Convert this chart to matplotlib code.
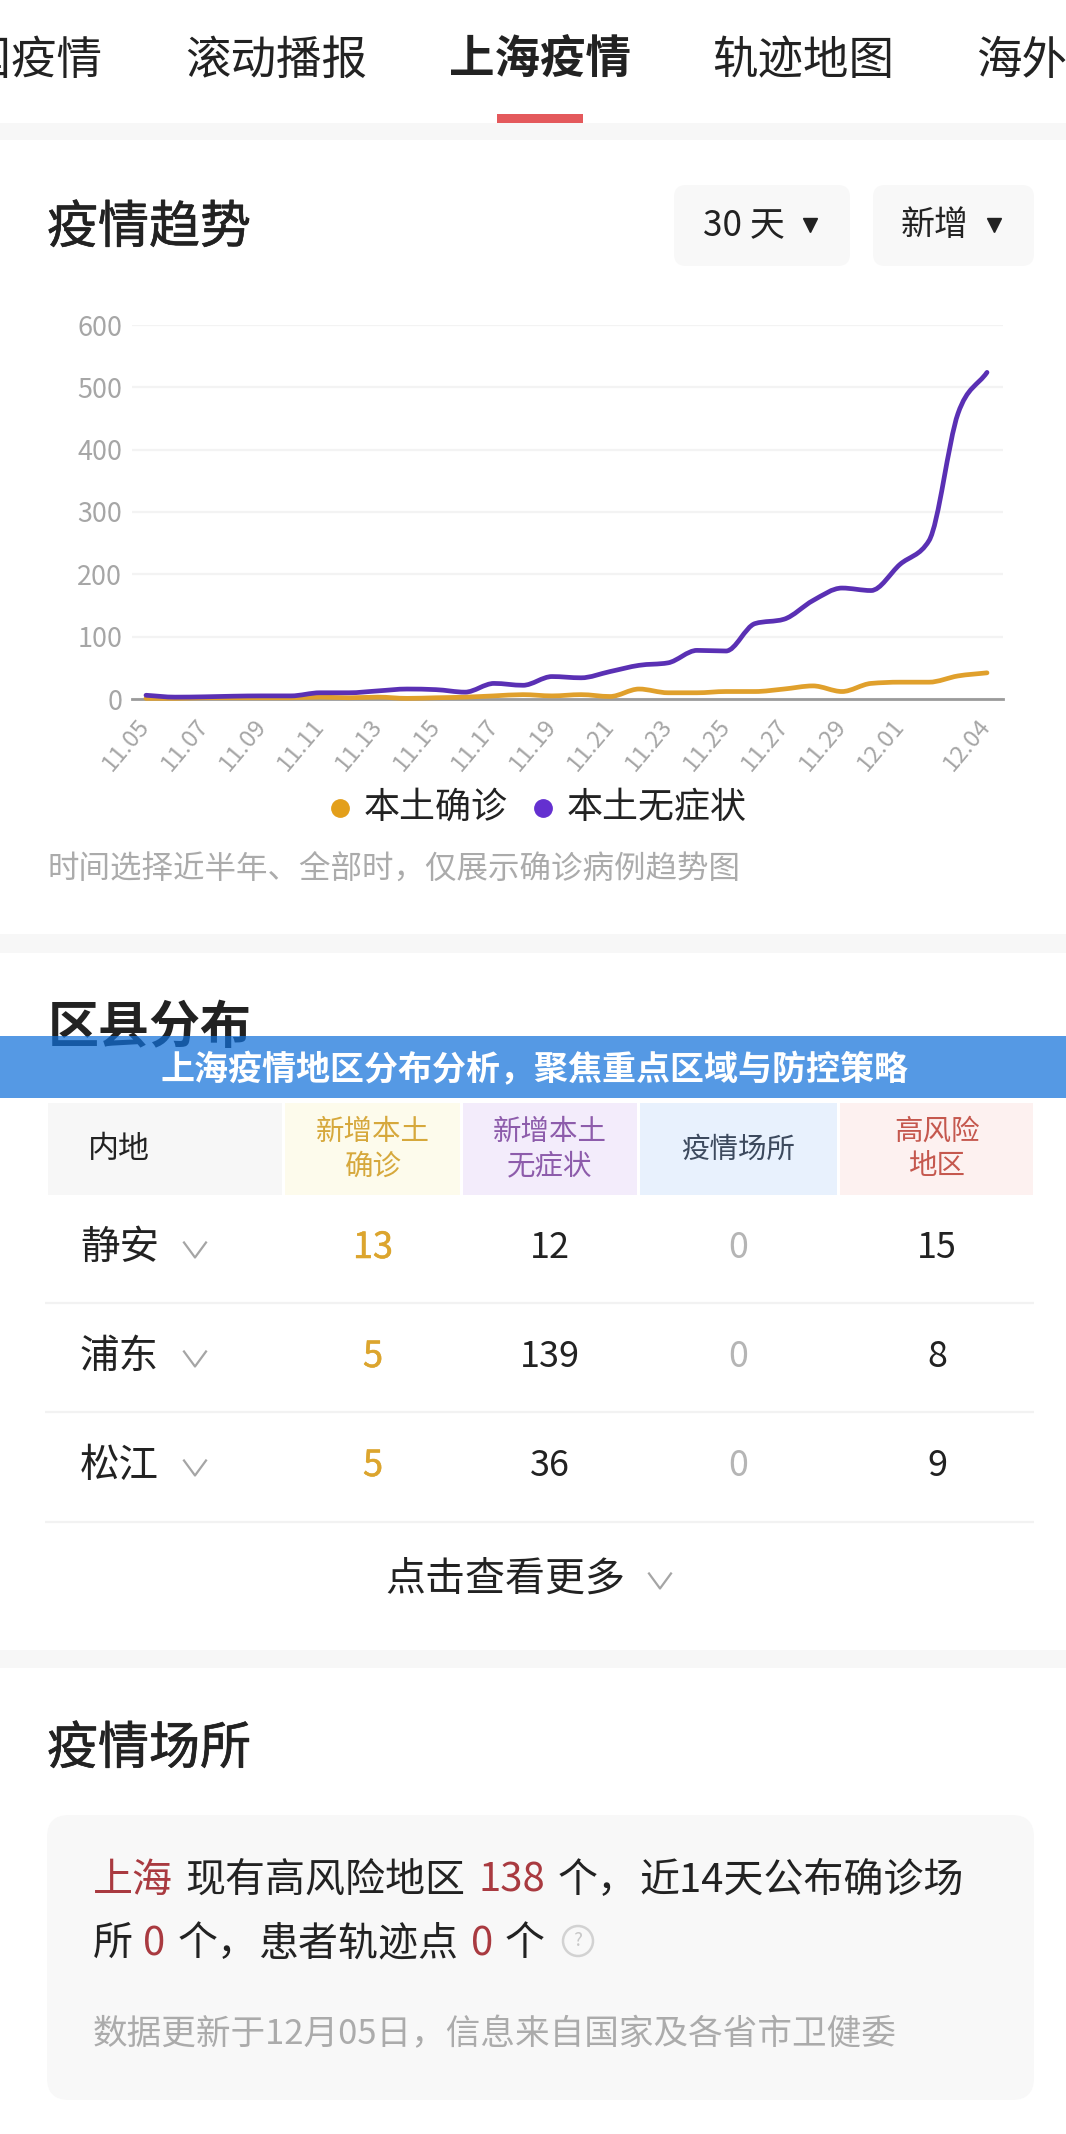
# plot.py
import matplotlib
matplotlib.use("Agg")
import numpy as np
import matplotlib.pyplot as plt
import matplotlib.patheffects as pe
from matplotlib.patches import FancyBboxPatch, PathPatch, Rectangle, Circle
from matplotlib.path import Path
from matplotlib.transforms import ScaledTranslation

plt.rcParams["font.family"] = ["Noto Sans CJK SC", "DejaVu Sans"]

# -----------------------------
# --- Data
# -----------------------------
days = list(range(30))
asymptomatic = [6, 3, 3.5, 4.5, 5, 5, 10, 10, 13, 16, 15, 11, 25, 22, 36, 34, 44, 54, 58, 78,
                77, 121, 128, 158, 178, 174, 216, 254, 458, 524]
confirmed = [1, 1, 2, 2, 2, 2, 3, 2, 3, 1, 2, 3, 5, 7, 5, 7, 4, 16, 10, 10,
             12, 12, 16, 21, 12, 25, 27, 27, 37, 42]
date_ticks = [0, 2, 4, 6, 8, 10, 12, 14, 16, 18, 20, 22, 24, 26, 29]
date_labels = ["11.05", "11.07", "11.09", "11.11", "11.13", "11.15", "11.17", "11.19",
               "11.21", "11.23", "11.25", "11.27", "11.29", "12.01", "12.04"]
y_ticks = [0, 100, 200, 300, 400, 500, 600]

districts = ["静安", "浦东", "松江"]
new_confirmed = [13, 5, 5]
new_asymptomatic = [12, 139, 36]
venues = [0, 0, 0]
high_risk = [15, 8, 9]

W, H = 1066, 2134
ORANGE = "#e0a02c"
PURPLE = "#5a30b4"
GOLD = "#dca52e"
RED = "#a93a40"
DARK = "#222222"
BAND = "#f7f7f7"
COMMA = "\uff0c"  # full width

fig = plt.figure(figsize=(W / 100, H / 100), dpi=100, facecolor="white")

# page axes works in image pixels, y going down
page = fig.add_axes([0, 0, 1, 1])
page.set_xlim(0, W)
page.set_ylim(H, 0)
page.axis("off")


def put(x, y, s, px, color=DARK, ha="left", weight="normal", z=3, heavy=0):
    # glyphs sit a little high with va=center, hence the +3
    t = page.text(x, y + 3, s, fontsize=px * 0.72, color=color, ha=ha, va="center",
                  fontweight=weight, zorder=z)
    if heavy:
        t.set_path_effects([pe.withStroke(linewidth=heavy, foreground=color)])
    return t


def box(x0, y0, x1, y1, color, z=1):
    page.add_patch(Rectangle((x0, y0), x1 - x0, y1 - y0, facecolor=color, edgecolor="none", zorder=z))


def rounded(x0, y0, x1, y1, color, r):
    page.add_patch(FancyBboxPatch((x0 + r, y0 + r), x1 - x0 - 2 * r, y1 - y0 - 2 * r,
                                  boxstyle=f"round,pad={r},rounding_size={r}",
                                  facecolor=color, edgecolor="none", zorder=1))


def chevron(x, y, half=11, drop=15):
    page.plot([x - half, x, x + half], [y - drop / 2, y + drop / 2, y - drop / 2],
              color="#a5a5a5", lw=1.6, zorder=3)


def smooth_path(xs, ys):
    # bezier through the points, central slopes limited so spikes do not overshoot
    xs = np.asarray(xs, dtype=float)
    ys = np.asarray(ys, dtype=float)
    slope = np.diff(ys) / np.diff(xs)
    tang = np.zeros(len(xs))
    tang[0], tang[-1] = slope[0], slope[-1]
    for i in range(1, len(xs) - 1):
        a, b = slope[i - 1], slope[i]
        if a * b > 0:
            tang[i] = np.sign(a) * min(abs(a + b) / 2, 2 * abs(a), 2 * abs(b))
    verts = [(xs[0], ys[0])]
    codes = [Path.MOVETO]
    for i in range(len(xs) - 1):
        dx = (xs[i + 1] - xs[i]) / 3
        verts += [(xs[i] + dx, ys[i] + tang[i] * dx),
                  (xs[i + 1] - dx, ys[i + 1] - tang[i + 1] * dx),
                  (xs[i + 1], ys[i + 1])]
        codes += [Path.CURVE4] * 3
    return Path(verts, codes)


# -----------------------------
# --- Tabs
# -----------------------------
put(103, 58, "全国疫情", 45.5, ha="right")
put(185, 58, "滚动播报", 45.5)
put(449, 58, "上海疫情", 45.5, weight="bold")
put(712, 58, "轨迹地图", 45.5)
put(976, 58, "海外疫情", 45.5)
box(497, 114, 583, 123, "#e4595c", z=2)
box(0, 123, W, 140, BAND)

# -----------------------------
# --- Trend chart
# -----------------------------
put(47, 225, "疫情趋势", 51, heavy=0.5)
rounded(674, 185, 850, 266, "#f8f8f8", 12)
rounded(873, 185, 1034, 266, "#f8f8f8", 12)
put(703, 223, "30 天", 35)
put(901, 223, "新增", 34)
page.plot([810, 994], [225, 225], ls="none", marker="v", ms=9.5, color=DARK, zorder=3)

left, right, top, bottom = 132, 1003, 325, 699
ax = fig.add_axes([left / W, 1 - bottom / H, (right - left) / W, (bottom - top) / H])
ax.patch.set_alpha(0)
ax.set_xlim(-14 / 29, 29 + 16 / 29)
ax.set_ylim(0, 600)
for side in ["top", "right", "left"]:
    ax.spines[side].set_visible(False)
ax.spines["bottom"].set_color("#9a9a9a")
ax.spines["bottom"].set_linewidth(2)
ax.grid(axis="y", color="#f3f3f3", lw=1.6)
ax.set_axisbelow(True)
ax.set_yticks(y_ticks)
ax.set_xticks(date_ticks)
ax.set_xticklabels(date_labels, rotation=50, ha="right", rotation_mode="anchor")
ax.tick_params(axis="both", length=0, labelsize=27 * 0.72, labelcolor="#a6a6a6")
ax.tick_params(axis="y", pad=7)
ax.tick_params(axis="x", labelsize=24 * 0.72, pad=11)
for lab in ax.get_xticklabels():
    lab.set_transform(lab.get_transform() + ScaledTranslation(-9 / 100, 0, fig.dpi_scale_trans))

for series, col in [(confirmed, ORANGE), (asymptomatic, PURPLE)]:
    ax.add_patch(PathPatch(smooth_path(days, series), facecolor="none", edgecolor=col, lw=3.4,
                           capstyle="round", joinstyle="round", clip_on=False, zorder=3))

# legend
page.plot([340], [808], marker="o", ms=12.5, color="#e39f1a", ls="none", zorder=3)
put(364, 805, "本土确诊", 36)
page.plot([543], [808], marker="o", ms=12.5, color="#6430d0", ls="none", zorder=3)
put(567, 805, "本土无症状", 36)
put(47, 867, "时间选择近半年、全部时" + COMMA + "仅展示确诊病例趋势图", 31.5, color="#ababab")
box(0, 934, W, 953, BAND)

# -----------------------------
# --- District table
# -----------------------------
put(48, 1025, "区县分布", 51, weight="bold", z=2)
page.add_patch(Rectangle((0, 1036), W, 62, facecolor="#1170da", alpha=0.715, edgecolor="none", zorder=4))
put(534, 1067, "上海疫情地区分布分析" + COMMA + "聚焦重点区域与防控策略", 34, color="white", ha="center",
    weight="bold", z=5)

box(48, 1103, 282, 1195, "#f7f7f7")
box(285, 1103, 460, 1195, "#fdfbec")
box(463, 1103, 637, 1195, "#f3ecfb")
box(640, 1103, 837, 1195, "#e8f1fd")
box(840, 1103, 1033, 1195, "#fdf1f0")
put(88, 1147, "内地", 31)
put(373, 1146, "新增本土\n确诊", 28.5, color="#d6a83c", ha="center")
put(550, 1146, "新增本土\n无症状", 28.5, color="#8d5cab", ha="center")
put(738, 1147, "疫情场所", 28.5, color="#3d4a5e", ha="center")
put(937, 1146, "高风险\n地区", 28.5, color="#c5584e", ha="center")

row_y = [1245, 1354, 1463]
line_y = [1303, 1412, 1522]
for i in range(len(districts)):
    put(80, row_y[i], districts[i], 39.5)
    chevron(195, row_y[i] + 5)
    put(373, row_y[i], str(new_confirmed[i]), 36, color=GOLD, ha="center", heavy=0.4)
    put(550, row_y[i], str(new_asymptomatic[i]), 36, ha="center")
    put(738, row_y[i], str(venues[i]), 36, color="#b5b5b5", ha="center")
    put(937, row_y[i], str(high_risk[i]), 36, ha="center")
    page.plot([45, 1034], [line_y[i], line_y[i]], color="#f2f2f2", lw=1.6, zorder=2,
              solid_capstyle="butt")

put(385, 1577, "点击查看更多", 40)
chevron(660, 1581)
box(0, 1650, W, 1668, BAND)

# -----------------------------
# --- Venues card
# -----------------------------
put(47, 1746, "疫情场所", 51, heavy=0.5)
rounded(47, 1815, 1034, 2100, "#f8f8f8", 22)

put(93, 1878, "上海", 40, color=RED)
put(185, 1878, "现有高风险地区", 40)
put(478, 1878, "138", 40, color=RED)
put(558, 1878, "个" + COMMA, 40)
put(639, 1878, "近14天公布确诊场", 40)

put(93, 1941, "所", 40)
put(143, 1941, "0", 40, color=RED)
put(178, 1941, "个" + COMMA, 40)
put(258, 1941, "患者轨迹点", 40)
put(471, 1941, "0", 40, color=RED)
put(505, 1941, "个", 40)
page.add_patch(Circle((578, 1941), 15, facecolor="none", edgecolor="#d2d2d2", lw=1.8, zorder=3))
put(578, 1938, "?", 19, color="#c8c8c8", ha="center")

put(93, 2032, "数据更新于12月05日" + COMMA + "信息来自国家及各省市卫健委", 34.6, color="#ababab")

fig.savefig("out.png", dpi=100)
